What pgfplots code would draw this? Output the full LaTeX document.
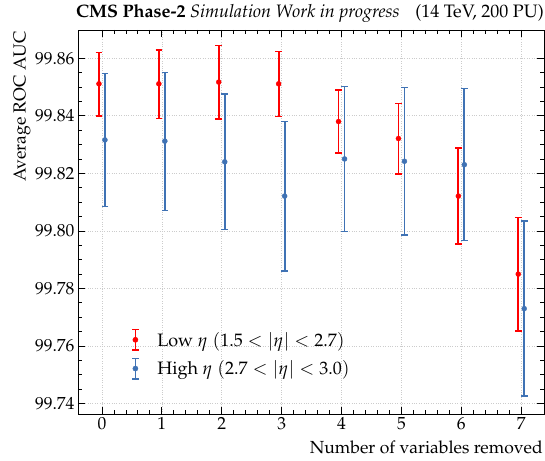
\documentclass[border=0pt]{standalone}
\usepackage[T1]{fontenc}
\usepackage{mathpazo}
\usepackage{pgfplots}
\pgfplotsset{compat=1.18}
\usepackage{pgfplotstable}
\definecolor{cmsred}{RGB}{255,0,0}
\definecolor{cmsblue}{RGB}{63,114,180}
\pgfplotstableread{
x y ep em
-0.05 99.8511 0.0108 0.0111
0.95 99.8511 0.0118 0.0121
1.95 99.8517 0.0127 0.0128
2.95 99.8511 0.0112 0.0114
3.95 99.8380 0.0110 0.0110
4.95 99.8321 0.0121 0.0123
5.95 99.8121 0.0167 0.0167
6.95 99.7850 0.0197 0.0198
}\lowdata
\pgfplotstableread{
x y ep em
0.05 99.8316 0.0231 0.0231
1.05 99.8312 0.0238 0.0241
2.05 99.8240 0.0236 0.0235
3.05 99.8121 0.0259 0.0261
4.05 99.8250 0.0251 0.0252
5.05 99.8242 0.0257 0.0256
6.05 99.8230 0.0264 0.0264
7.05 99.7730 0.0305 0.0304
}\highdata
\begin{document}
\begin{tikzpicture}
\path (-78pt,-46pt) rectangle (467pt,414pt);
\begin{axis}[
  scale only axis, clip=false,
  width=466pt, height=384pt,
  xmin=-0.4, xmax=7.38,
  ymin=99.7364, ymax=99.8698,
  xtick={0,1,2,3,4,5,6,7},
  ytick={99.74,99.76,99.78,99.80,99.82,99.84,99.86},
  minor x tick num=4,
  minor y tick num=3,
  tick align=inside,
  xtick pos=both, ytick pos=both,
  major tick length=7pt, minor tick length=4pt,
  tick style={black, line width=0.8pt},
  axis line style={line width=0.9pt},
  grid=major,
  major grid style={dotted, gray!40, line width=0.6pt},
  font=\fontsize{17.5}{20}\selectfont,
  yticklabel style={/pgf/number format/.cd, fixed, fixed zerofill, precision=2},
  /pgf/number format/assume math mode=true,
  scaled y ticks=false,
  xlabel={Number of variables removed},
  ylabel={Average ROC AUC},
  xlabel style={at={(ticklabel cs:1)}, anchor=north east, inner sep=1pt, yshift=-6pt},
  ylabel style={at={(ticklabel cs:1)}, anchor=south east, inner sep=1pt},
  legend style={draw=none, fill=none, at={(0.098,0.083)}, anchor=south west,
    font=\fontsize{18}{21}\selectfont, row sep=6pt},
  legend cell align=left,
]
\addplot+[only marks, mark=*, mark size=2.5pt, color=cmsred,
  mark options={fill=cmsred, draw=cmsred},
  legend image code/.code={
    \path[draw=none, fill=none] (0,-0.4cm) rectangle (1.0cm,0.4cm);
    \draw[cmsred, line width=1.8pt] (0.3cm,-0.36cm) -- (0.3cm,0.36cm);
    \draw[cmsred, line width=1.5pt] (0.19cm,-0.36cm) -- (0.41cm,-0.36cm) (0.19cm,0.36cm) -- (0.41cm,0.36cm);
    \fill[cmsred] (0.3cm,0) circle (2.6pt);},
  error bars/.cd, y dir=both, y explicit,
  error bar style={line width=1.8pt, color=cmsred},
  error mark options={rotate=90, mark size=3.3pt, line width=1.5pt, color=cmsred}]
  table[x=x, y=y, y error plus=ep, y error minus=em] {\lowdata};
\addlegendentry{Low $\eta$ $(1.5 < |\eta| < 2.7)$}
\addplot+[only marks, mark=*, mark size=2.5pt, color=cmsblue,
  mark options={fill=cmsblue, draw=cmsblue},
  legend image code/.code={
    \path[draw=none, fill=none] (0,-0.4cm) rectangle (1.0cm,0.4cm);
    \draw[cmsblue, line width=1.8pt] (0.3cm,-0.36cm) -- (0.3cm,0.36cm);
    \draw[cmsblue, line width=1.5pt] (0.19cm,-0.36cm) -- (0.41cm,-0.36cm) (0.19cm,0.36cm) -- (0.41cm,0.36cm);
    \fill[cmsblue] (0.3cm,0) circle (2.6pt);},
  error bars/.cd, y dir=both, y explicit,
  error bar style={line width=1.8pt, color=cmsblue},
  error mark options={rotate=90, mark size=3.3pt, line width=1.5pt, color=cmsblue}]
  table[x=x, y=y, y error plus=ep, y error minus=em] {\highdata};
\addlegendentry{High $\eta$ $(2.7 < |\eta| < 3.0)$}
\node[anchor=base west, inner sep=0pt] at ([yshift=12pt,xshift=-2pt]rel axis cs:0,1)
  {\fontsize{18}{20}\selectfont\textbf{CMS Phase-2} \textit{Simulation Work in progress}};
\node[anchor=base east, inner sep=0pt] at ([yshift=12pt]rel axis cs:1,1)
  {\fontsize{18}{20}\selectfont (14 TeV, 200 PU)};
\end{axis}
\end{tikzpicture}
\end{document}
